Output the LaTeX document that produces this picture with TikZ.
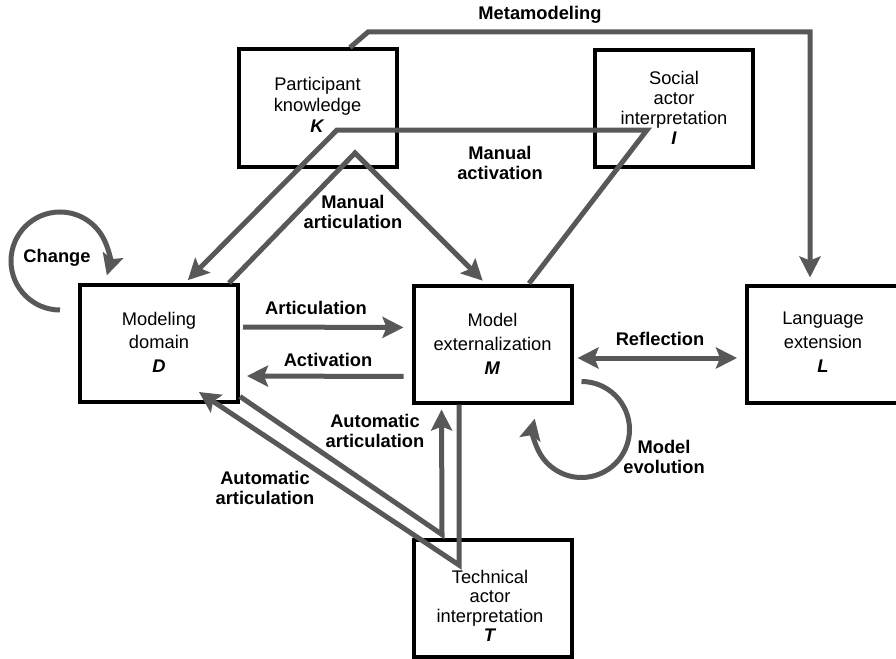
\documentclass[tikz,border=0pt]{standalone}
\usepackage{fontspec}
\setmainfont{Liberation Sans}
\usetikzlibrary{arrows.meta,calc}
\definecolor{ag}{RGB}{88,88,88}
\begin{document}
\begin{tikzpicture}[x=1pt,y=-1pt,
  box/.style={draw=black, line width=4pt, minimum width=158pt, minimum height=117pt, inner sep=0pt},
  btext/.style={align=center, inner sep=0pt, font=\fontsize{18.3}{#1}\selectfont},
  btext/.default=21,
  lab/.style={font=\fontsize{18.3}{19.5}\selectfont\bfseries, align=center, inner sep=0pt},
  ar/.style={draw=ag, line width=5pt, -{Stealth[length=21pt,width=21pt,inset=4pt]}},
  dar/.style={draw=ag, line width=5pt, {Stealth[length=21pt,width=21pt,inset=4pt]}-{Stealth[length=21pt,width=21pt,inset=4pt]}},
  ln/.style={draw=ag, line width=5pt}]
\clip (0,0) rectangle (896,658);
\fill[white] (0,0) rectangle (896,658);

% boxes
\node[box] (K) at (317.5,108) {};
\node[box] (I) at (674,108.5) {};
\node[box] (D) at (159,343.5) {};
\node[box] (M) at (492.5,344) {};
\node[box] (L) at (826,344) {};
\node[box] (T) at (493,598) {};

% box texts
\node[btext=21] (Kt) at (317.5,105) {Participant\\knowledge\\\textbf{\textit{K}}};
\node[btext=20] (It) at (674,107.5) {Social\\actor\\interpretation\\\textbf{\textit{I}}};
\node[btext=23.5] (Dt) at (159,342) {Modeling\\domain\\\textbf{\textit{D}}};
\node[btext=24] (Mt) at (492.5,344) {Model\\externalization\\\textbf{\textit{M}}};
\node[btext=24] (Lt) at (823,342) {Language\\extension\\\textbf{\textit{L}}};
\node[btext=19.5] (Tt) at (490,606) {Technical\\actor\\interpretation\\\textbf{\textit{T}}};

% Metamodeling
\draw[ar, shorten >=6pt] ([xshift=32.5pt]K.north) -- (368,32) -- (810,32) -- ([xshift=-16pt]L.north);
\node[lab] (metalab) at (540,15) {Metamodeling};

% Manual activation
\draw[ar, shorten >=4pt] ([xshift=36.5pt]M.north) -- (647,130) -- (337,130) -- ([xshift=26pt]D.north);
\node[lab] (malab) at (500,163) {Manual\\activation};

% Manual articulation
\draw[ar, shorten >=4pt] ([xshift=70pt]D.north) -- (355,153) -- ([xshift=-7pt]M.north);
\node[lab] (marlab) at (353,212) {Manual\\articulation};

% Change
\draw[ar] ($(D.north west)+(-18,27)$) arc[start angle=90, end angle=377, radius=49];
\node[lab] (chlab) at (57,258) {Change};

% Articulation / Activation
\draw[ar, shorten <=3pt, shorten >=8pt] ([yshift=16.5pt]D.east) -- ([yshift=16.5pt]M.west);
\node[lab] (artlab) at (316,308) {Articulation};
\draw[ar, shorten <=8pt, shorten >=7pt] ([yshift=-32.5pt]M.west) -- ([yshift=-32.5pt]D.east);
\node[lab] (actlab) at (328,360) {Activation};

% Reflection
\draw[dar, shorten <=4pt, shorten >=8pt] ([yshift=-14pt]M.east) -- ([yshift=-14pt]L.west);
\node[lab] (reflab) at (660,339) {Reflection};

% Model evolution
\draw[ar] ($(M.south east)+(8,-23)$) arc[start angle=-90, end angle=193, radius=48];
\node[lab] (evlab) at (664,457) {Model\\evolution};

% Automatic articulation (D -> T -> M)
\draw[ar, shorten >=5pt] ([yshift=7.5pt]D.south east) -- ([xshift=-51pt,yshift=3pt]T.north) -- ([xshift=-51pt]M.south);
\node[lab] (aa1) at (375,431) {Automatic\\articulation};

% Automatic articulation (M -> T -> D)
\draw[ar] ([xshift=-33.5pt]M.south) -- (459,565) -- ([xshift=40pt,yshift=12pt]D.south);
\node[lab] (aa2) at (265,488) {Automatic\\articulation};
\end{tikzpicture}
\end{document}
